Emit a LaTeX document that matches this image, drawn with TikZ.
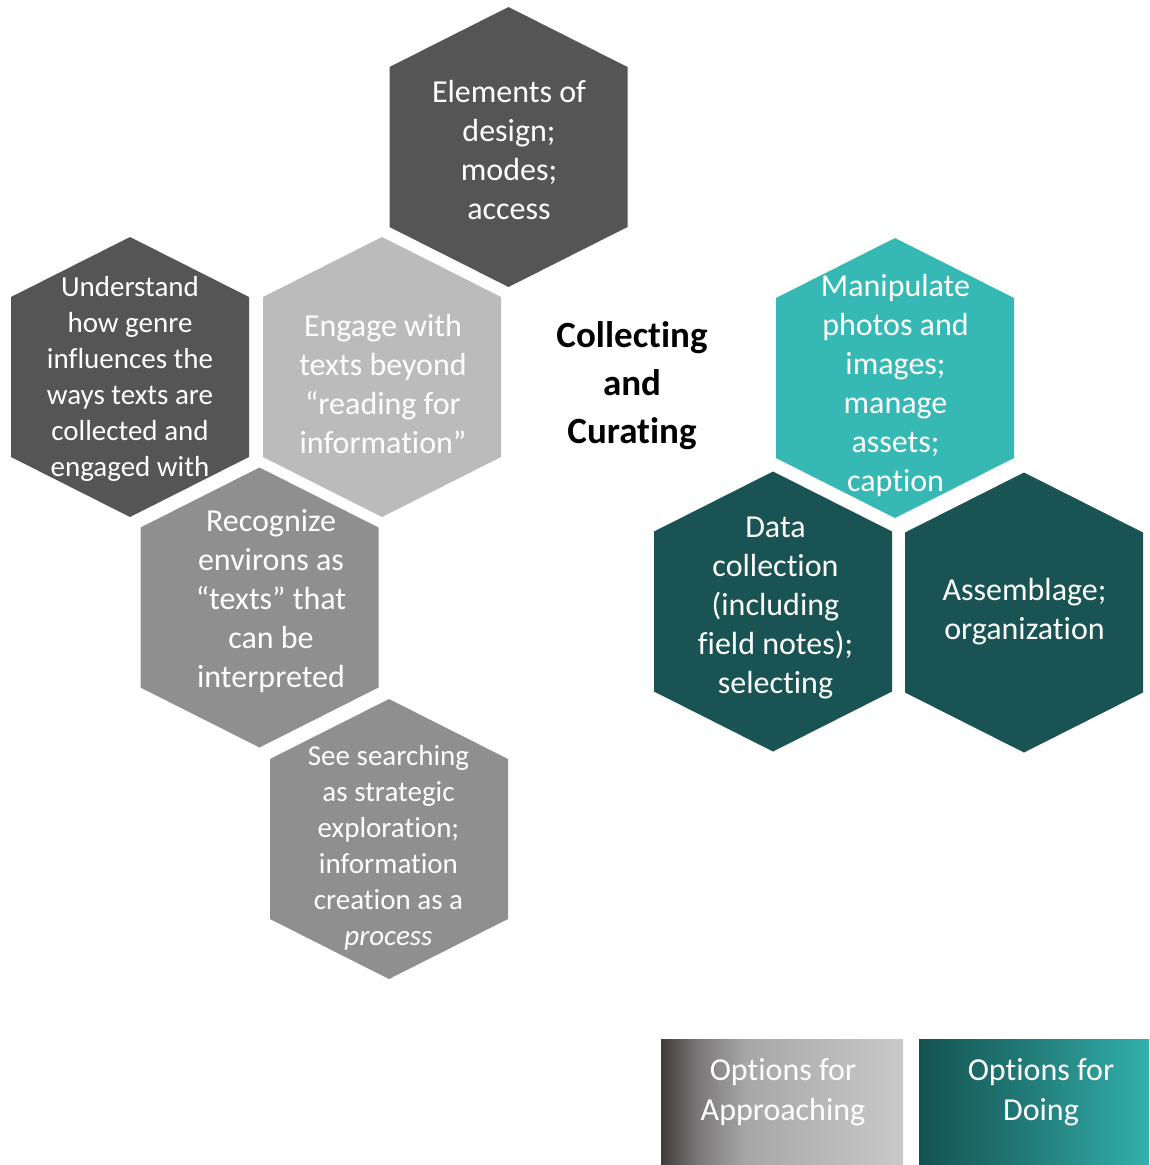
\documentclass[tikz,border=0pt]{standalone}
\usepackage{fontspec}
\setmainfont[Ligatures=NoCommon]{Carlito}
\definecolor{hexdark}{HTML}{555555}
\definecolor{hexlight}{HTML}{BBBBBB}
\definecolor{hexmid}{HTML}{8F8F8F}
\definecolor{tealbright}{HTML}{36B8B5}
\definecolor{tealdeep}{HTML}{1A5353}
\definecolor{gA}{HTML}{3F3B3B}
\definecolor{gB}{HTML}{787676}
\definecolor{gC}{HTML}{A8A7A7}
\definecolor{gD}{HTML}{CAC9C9}
\definecolor{tA}{HTML}{135250}
\definecolor{tB}{HTML}{237E7B}
\definecolor{tC}{HTML}{31B0AC}
\pgfdeclarehorizontalshading{approachshade}{100bp}{color(0bp)=(gA); color(25bp)=(gA); color(32.5bp)=(gB); color(42.5bp)=(gC); color(75bp)=(gD); color(100bp)=(gD)}
\pgfdeclarehorizontalshading{doingshade}{100bp}{color(0bp)=(tA); color(25bp)=(tA); color(50bp)=(tB); color(75bp)=(tC); color(100bp)=(tC)}
\tikzset{
  pics/hexcell/.style={code={
    \path[pic actions] (0,-140) -- (119,-80) -- (119,80) -- (0,140)
      -- (-119,80) -- (-119,-80) -- cycle;}},
  celltext/.style={text=white, align=center, inner sep=0pt,
    font=\fontsize{32}{39}\selectfont},
  celltextsmall/.style={celltext, font=\fontsize{29}{36}\selectfont},
  legendtext/.style={text=white, align=center, inner sep=0pt,
    font=\fontsize{32}{40}\selectfont},
}
\begin{document}
\begin{tikzpicture}[x=1pt, y=-1pt]
\useasboundingbox (0,0) rectangle (1149,1165);

% hexagonal cells
\pic[fill=hexdark]    at (508.5,147) {hexcell};
\pic[fill=hexdark]    at (130,377)   {hexcell};
\pic[fill=hexlight]   at (382,377)   {hexcell};
\pic[fill=hexmid]     at (259.5,607.5) {hexcell};
\pic[fill=hexmid]     at (389,839)   {hexcell};
\pic[fill=tealbright] at (895,378)   {hexcell};
\pic[fill=tealdeep]   at (773,611.5) {hexcell};
\pic[fill=tealdeep]   at (1024,612.5) {hexcell};

% cell texts
\node[celltext] (design) at (509,150.5) {Elements of\\design;\\modes;\\access};
\node[celltextsmall] (genre) at (130,379) {Understand\\how genre\\influences the\\ways texts are\\collected and\\engaged with};
\node[celltext] (engage) at (383,384) {Engage with\\texts beyond\\“reading for\\information”};
\node[celltext] (environs) at (271,601.5) {Recognize\\environs as\\“texts” that\\can be\\interpreted};
\node[celltextsmall] (search) at (388.5,847.5) {See searching\\as strategic\\exploration;\\information\\creation as a\\\textit{process}};
\node[celltext] (photos) at (895.5,385) {Manipulate\\photos and\\images;\\manage\\assets;\\caption};
\node[celltext] (data) at (775.5,607.5) {Data\\collection\\(including\\field notes);\\selecting};
\node[celltext] (assemble) at (1024.5,612) {Assemblage;\\organization};

% central title
\node[align=center, inner sep=0pt, font=\bfseries\fontsize{37}{48}\selectfont] (title) at (632,386) {Collecting\\and\\Curating};

% legend
\shade[shading=approachshade] (661,1039) rectangle (903,1164);
\shade[shading=doingshade] (919,1039) rectangle (1149,1164);
\node[legendtext] (approach) at (783,1092) {Options for\\Approaching};
\node[legendtext] (doing) at (1041,1092) {Options for\\Doing};
\end{tikzpicture}
\end{document}
